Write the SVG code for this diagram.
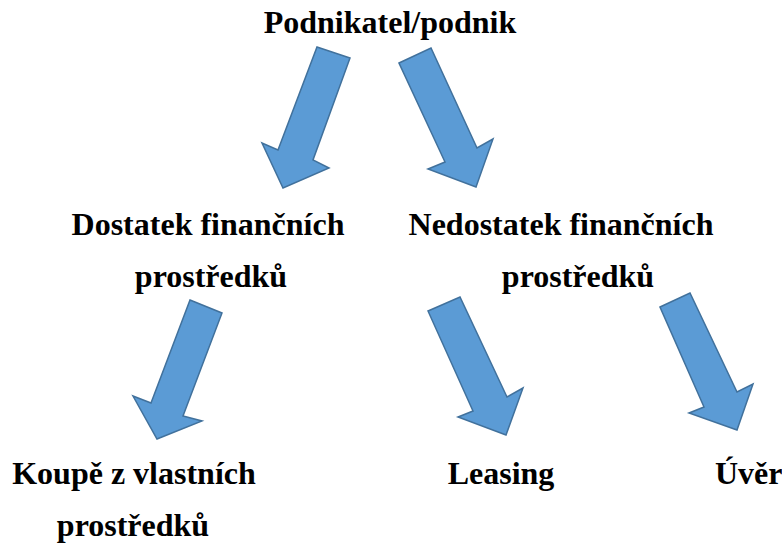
<svg xmlns="http://www.w3.org/2000/svg" width="782" height="545" viewBox="0 0 782 545">
<style>
.a{fill:#5B9BD5;stroke:#41719C;stroke-width:1.5;stroke-linejoin:miter}
</style>
<rect width="782" height="545" fill="#fff"/>
<g id="connectors">
<polygon class="a" points="317,47 350,58 313,160 329,168 283,188 262,143 278,150"/>
<polygon class="a" points="399,63 431,48 477,148 493,139 476,187 428,169 445,162"/>
<polygon class="a" points="190,300 222,313 183,416 202,421 157,439 133,396 151,403"/>
<polygon class="a" points="428,311 460,297 507,397 523,388 506,435 458,417 473,411"/>
<polygon class="a" points="660,307 690,293 737,392 753,384 737,430 689,413 704,407"/>
</g>
<g font-family="Liberation Serif" font-weight="bold" font-size="32" fill="#000" text-anchor="middle">
<g id="n-podnik"><text x="390" y="33">Podnikatel/podnik</text></g>
<g id="n-dostatek"><text x="208" y="235">Dostatek finančních</text><text x="211" y="287">prostředků</text></g>
<g id="n-nedostatek"><text x="561" y="235">Nedostatek finančních</text><text x="578" y="287">prostředků</text></g>
<g id="n-koupe"><text x="134" y="484">Koupě z vlastních</text><text x="133" y="536">prostředků</text></g>
<g id="n-leasing"><text x="501" y="484">Leasing</text></g>
<g id="n-uver"><text x="715" y="484" text-anchor="start">Úvěr</text></g>
</g>
</svg>
